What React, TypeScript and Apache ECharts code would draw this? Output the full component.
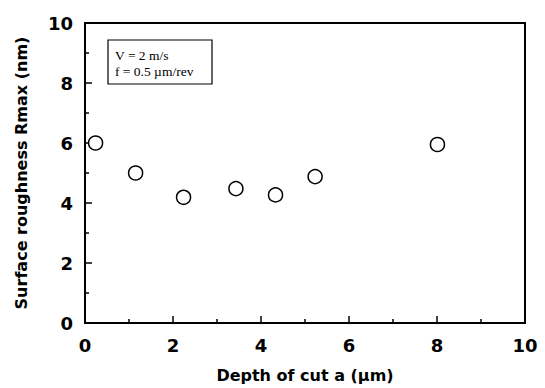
import React, { useEffect, useRef } from "react";
import * as echarts from "echarts";

const depthOfCut = [0.24, 1.15, 2.24, 3.43, 4.33, 5.23, 8.01];
const roughness = [6.0, 5.0, 4.19, 4.48, 4.27, 4.88, 5.95];
const legendLines = ["V = 2 m/s", "f = 0.5 \u00b5m/rev"];
const xTitle = "Depth of cut a (\u00b5m)";
const yTitle = "Surface roughness Rmax (nm)";

export default function App() {
  const ref = useRef<HTMLDivElement>(null);
  useEffect(() => {
    const chart = echarts.init(ref.current!, null, { renderer: "svg" });
    const sans = "'DejaVu Sans', 'Liberation Sans', Arial, sans-serif";
    const serif = "'Liberation Serif', 'Times New Roman', serif";
    chart.setOption({
      animation: false,
      backgroundColor: "#fff",
      grid: {
        left: 85,
        right: 20,
        top: 23,
        bottom: 65,
        show: true,
        borderColor: "#000",
        borderWidth: 2,
        backgroundColor: "transparent",
      },
      xAxis: {
        type: "value",
        min: 0,
        max: 10,
        interval: 2,
        name: xTitle,
        nameLocation: "middle",
        nameGap: 44,
        nameTextStyle: { fontFamily: sans, fontWeight: "bold", fontSize: 16, color: "#000" },
        axisLine: { show: true, lineStyle: { color: "#000", width: 2 } },
        axisTick: { show: true, inside: true, length: 7, lineStyle: { color: "#000", width: 1.5 } },
        minorTick: { show: true, splitNumber: 2, length: 4, lineStyle: { color: "#000", width: 1.5 } },
        splitLine: { show: false },
        axisLabel: { fontFamily: sans, fontWeight: "bold", fontSize: 18, color: "#000", margin: 13 },
      },
      yAxis: {
        type: "value",
        min: 0,
        max: 10,
        interval: 2,
        name: yTitle,
        nameLocation: "middle",
        nameGap: 56,
        nameRotate: 90,
        nameTextStyle: { fontFamily: sans, fontWeight: "bold", fontSize: 16, color: "#000" },
        axisLine: { show: true, lineStyle: { color: "#000", width: 2 } },
        axisTick: { show: true, inside: true, length: 7, lineStyle: { color: "#000", width: 1.5 } },
        minorTick: { show: true, splitNumber: 2, length: 4, lineStyle: { color: "#000", width: 1.5 } },
        splitLine: { show: false },
        axisLabel: { fontFamily: sans, fontWeight: "bold", fontSize: 18, color: "#000", margin: 12 },
      },
      graphic: [
        {
          type: "rect",
          shape: { x: 108, y: 40, width: 104, height: 44 },
          style: { fill: "#fff", stroke: "#000", lineWidth: 1.2 },
        },
        {
          type: "text",
          x: 115,
          y: 55,
          style: {
            text: legendLines[0],
            fontFamily: serif,
            fontSize: 13.5,
            fill: "#000",
            verticalAlign: "middle",
          },
        },
        {
          type: "text",
          x: 115,
          y: 71,
          style: {
            text: legendLines[1],
            fontFamily: serif,
            fontSize: 13.5,
            fill: "#000",
            verticalAlign: "middle",
          },
        },
      ],
      series: [
        {
          type: "scatter",
          data: depthOfCut.map((x, i) => [x, roughness[i]]),
          symbol: "circle",
          symbolSize: 14,
          itemStyle: { color: "#fff", borderColor: "#000", borderWidth: 1.5, opacity: 1 },
        },
      ],
    });
    return () => chart.dispose();
  }, []);
  return <div ref={ref} style={{ width: 545, height: 388, position: "absolute", left: 0, top: 0 }} />;
}
